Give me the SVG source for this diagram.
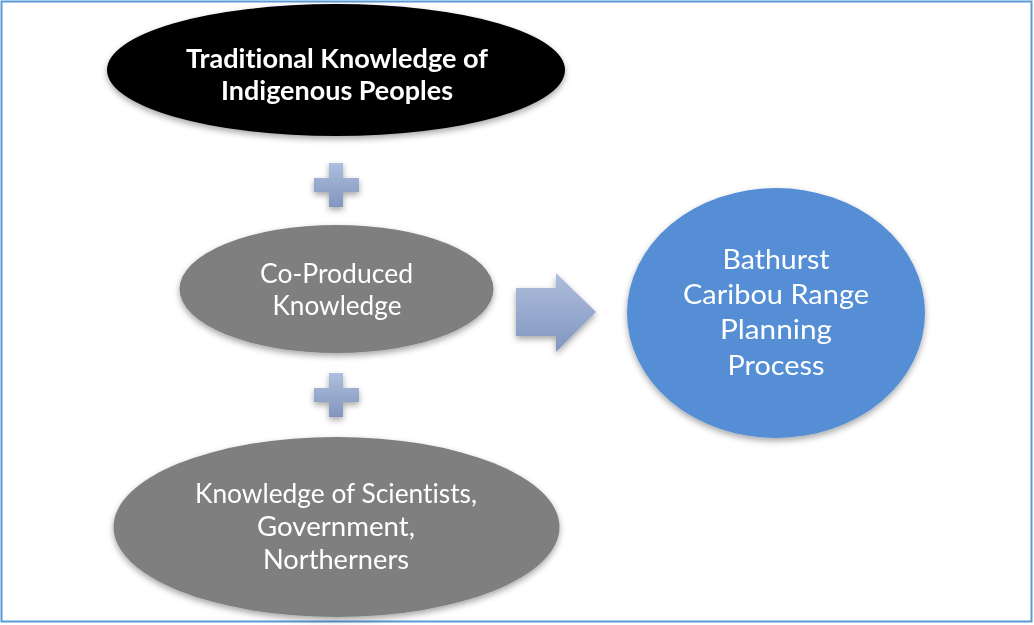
<svg xmlns="http://www.w3.org/2000/svg" width="1034" height="625" viewBox="0 0 1034 625">
  <style>
    .lbl { font-family: Lato, "Open Sans", sans-serif; font-size: 27px; fill: #ffffff; text-anchor: middle; font-variant-ligatures: none; }
    .bold { font-weight: bold; }
    .node { filter: url(#shadow); }
    .op { fill: url(#opGrad); filter: url(#shadow); }
  </style>
  <defs>
    <filter id="shadow" x="-20%" y="-20%" width="140%" height="150%">
      <feDropShadow dx="0" dy="3" stdDeviation="3" flood-color="#000" flood-opacity="0.35"/>
    </filter>
    <linearGradient id="opGrad" x1="0" y1="0" x2="0" y2="1">
      <stop offset="0" stop-color="#aebedd"/>
      <stop offset="1" stop-color="#8195bf"/>
    </linearGradient>
  </defs>

  <rect x="1.5" y="1.5" width="1030" height="620" fill="#ffffff" stroke="#5b9bd5" stroke-width="2"/>

  <g id="traditional-knowledge" class="node">
    <ellipse cx="336" cy="70" rx="229" ry="66" fill="#000000"/>
    <text class="lbl bold" x="337" y="68" textLength="302" lengthAdjust="spacingAndGlyphs">Traditional Knowledge of</text>
    <text class="lbl bold" x="337" y="100" textLength="232" lengthAdjust="spacingAndGlyphs">Indigenous Peoples</text>
  </g>

  <g id="co-produced" class="node">
    <ellipse cx="336.5" cy="289" rx="157" ry="64" fill="#7f7f7f"/>
    <text class="lbl" x="336.5" y="283" textLength="153" lengthAdjust="spacingAndGlyphs">Co-Produced</text>
    <text class="lbl" x="337" y="315" textLength="129" lengthAdjust="spacingAndGlyphs">Knowledge</text>
  </g>

  <g id="scientists-knowledge" class="node">
    <ellipse cx="336.5" cy="527" rx="223" ry="90" fill="#7f7f7f"/>
    <text class="lbl" x="336" y="503" textLength="282" lengthAdjust="spacingAndGlyphs">Knowledge of Scientists,</text>
    <text class="lbl" x="336" y="536" textLength="158" lengthAdjust="spacingAndGlyphs">Government,</text>
    <text class="lbl" x="336" y="569" textLength="146" lengthAdjust="spacingAndGlyphs">Northerners</text>
  </g>

  <g id="planning-process" class="node">
    <ellipse cx="776" cy="313" rx="149" ry="125" fill="#558ed5"/>
    <text class="lbl" x="776" y="269" textLength="107" lengthAdjust="spacingAndGlyphs">Bathurst</text>
    <text class="lbl" x="776" y="304" textLength="186" lengthAdjust="spacingAndGlyphs">Caribou Range</text>
    <text class="lbl" x="776" y="339" textLength="112" lengthAdjust="spacingAndGlyphs">Planning</text>
    <text class="lbl" x="776" y="375" textLength="97" lengthAdjust="spacingAndGlyphs">Process</text>
  </g>

  <g id="connectors">
    <path class="op" d="M329 163 H343 V178 H359 V192 H343 V207 H329 V192 H314 V178 H329 Z"/>
    <path class="op" d="M329 373 H343 V388 H359 V402 H343 V417 H329 V402 H314 V388 H329 Z"/>
    <path class="op" d="M516 288 H556 V273 L596 312 L556 352 V336 H516 Z"/>
  </g>
</svg>
